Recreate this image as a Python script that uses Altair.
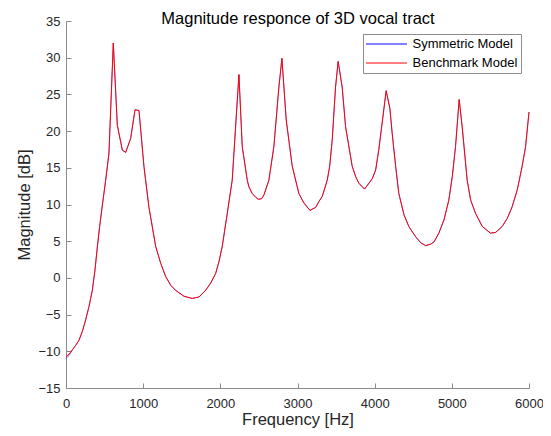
import altair as alt
import pandas as pd

# ---- data ----
freq_hz = [0, 39, 82, 125, 168, 212, 255, 298, 341, 376, 406, 436, 471, 514, 557, 613,
           665, 730, 773, 838, 894, 946, 1010, 1032, 1075, 1118, 1162, 1227, 1291, 1357,
           1421, 1529, 1636, 1723, 1809, 1875, 1939, 1982, 2025, 2090, 2154, 2241, 2284,
           2349, 2371, 2413, 2458, 2491, 2536, 2565, 2629, 2694, 2759, 2798, 2854, 2932,
           3018, 3084, 3161, 3236, 3277, 3321, 3385, 3417, 3450, 3493, 3527, 3579, 3623,
           3709, 3754, 3795, 3869, 3968, 4013, 4054, 4149, 4197, 4227, 4272, 4313, 4380,
           4443, 4531, 4596, 4659, 4726, 4769, 4832, 4898, 4961, 5006, 5048, 5095, 5134,
           5199, 5244, 5307, 5395, 5501, 5568, 5652, 5718, 5782, 5848, 5911, 5956, 6000]

benchmark_db = [-10.7, -10.4, -9.8, -9.2, -8.5, -7.3, -5.7, -3.9, -1.7, 1.1, 4.2, 7.0,
                9.9, 13.3, 17.0, 32.0, 20.8, 17.4, 17.1, 19.0, 22.9, 22.8, 15.2, 13.3,
                9.6, 7.0, 4.3, 2.0, 0.2, -1.0, -1.7, -2.5, -2.8, -2.6, -1.7, -0.7, 0.6,
                2.2, 4.3, 8.8, 13.3, 27.7, 17.9, 13.3, 12.4, 11.5, 11.0, 10.7, 10.8, 11.3,
                13.3, 17.9, 26.0, 29.9, 21.5, 15.2, 11.5, 10.2, 9.2, 9.6, 10.4, 11.1, 13.3,
                15.2, 18.8, 26.0, 29.5, 26.0, 20.6, 15.2, 13.8, 12.9, 12.1, 13.5, 14.7,
                17.5, 25.5, 23.1, 19.7, 15.2, 11.5, 8.6, 7.0, 5.6, 4.8, 4.4, 4.6, 4.9,
                6.1, 7.9, 10.6, 13.8, 17.9, 24.3, 20.6, 13.3, 10.6, 8.8, 7.0, 6.1, 6.2,
                7.0, 8.1, 9.7, 12.0, 15.2, 17.9, 22.6]

symmetric_db = list(benchmark_db)
symmetric_db[0] = -10.95
symmetric_db[1] = -10.6

series_names = ["Symmetric Model", "Benchmark Model"]
series_colors = ["#0000ff", "#ff0000"]

x_ticks = [0, 1000, 2000, 3000, 4000, 5000, 6000]
y_ticks = [-15, -10, -5, 0, 5, 10, 15, 20, 25, 30, 35]
x_domain = [0, 6000]
y_domain = [-15, 35]
chart_title = "Magnitude responce of 3D vocal tract"

n = len(freq_hz)
df = pd.DataFrame({
    "f": freq_hz + freq_hz,
    "db": symmetric_db + benchmark_db,
    "series": [series_names[0]] * n + [series_names[1]] * n,
})

FONT = "Liberation Sans"
W, H = 463, 367
AXIS_GRAY = "#8a8a8a"
TEXT_GRAY = "#262626"

color = alt.Color(
    "series:N",
    scale=alt.Scale(domain=series_names, range=series_colors),
    legend=alt.Legend(
        title=None, orient="none", legendX=297, legendY=13,
        symbolType="M-3.15,0H3.15", symbolSize=169, symbolStrokeWidth=1,
        symbolOffset=13.5, labelOffset=19,
        labelFont=FONT, labelFontSize=13, labelColor="#000000",
        rowPadding=5, padding=3,
        strokeColor="#8c8c8c", fillColor="#ffffff", cornerRadius=0,
    ),
)

x_main = alt.X(
    "f:Q",
    scale=alt.Scale(domain=x_domain, nice=False, zero=False),
    axis=alt.Axis(
        values=x_ticks, format="d", title="Frequency [Hz]", ticks=False, tickSize=0, grid=False,
        labelFont=FONT, labelFontSize=13, labelColor=TEXT_GRAY, labelPadding=9,
        labelFlush=False, labelOverlap=False,
        titleFont=FONT, titleFontSize=16.5, titleFontWeight="normal", titleColor=TEXT_GRAY,
        titleY=36, titleBaseline="alphabetic",
        domainColor=AXIS_GRAY, domainWidth=1,
    ),
)
y_main = alt.Y(
    "db:Q",
    scale=alt.Scale(domain=y_domain, nice=False, zero=False),
    axis=alt.Axis(
        values=y_ticks, format="d", title="Magnitude [dB]", ticks=False, tickSize=0, grid=False,
        labelFont=FONT, labelFontSize=13, labelColor=TEXT_GRAY, labelPadding=6,
        labelFlush=False, labelOverlap=False,
        titleFont=FONT, titleFontSize=16.5, titleFontWeight="normal", titleColor=TEXT_GRAY,
        titleX=-37, titleY=H / 2, titleBaseline="alphabetic", titleAngle=270,
        domainColor=AXIS_GRAY, domainWidth=1,
    ),
)

sym_layer = alt.Chart(df).transform_filter(
    alt.datum.series == series_names[0]
).mark_line(strokeWidth=0.5).encode(x=x_main, y=y_main, color=color, order="f:Q")

bench_layer = alt.Chart(df).transform_filter(
    alt.datum.series == series_names[1]
).mark_line(strokeWidth=1).encode(x=x_main, y=y_main, color=color, order="f:Q")

lines = alt.layer(sym_layer, bench_layer)

# inward-pointing tick marks (MATLAB style) through secondary axes;
# the top one also carries the chart title
tick_layer = alt.Chart(df).mark_point(opacity=0).encode(
    x=alt.X(
        "f:Q",
        scale=alt.Scale(domain=x_domain, nice=False, zero=False),
        axis=alt.Axis(orient="top", offset=-H, values=x_ticks, labels=False, domain=False,
                      grid=False, tickSize=5, tickColor=AXIS_GRAY,
                      title=chart_title, titleFont=FONT, titleFontSize=16.5,
                      titleFontWeight="normal", titleColor="#000000",
                      titleX=W / 2, titleY=-H + 2, titleBaseline="alphabetic",
                      titleAlign="center"),
    ),
    y=alt.Y(
        "db:Q",
        scale=alt.Scale(domain=y_domain, nice=False, zero=False),
        axis=alt.Axis(orient="right", offset=-W, values=y_ticks, labels=False, domain=False,
                      title=None, grid=False, tickSize=5, tickColor=AXIS_GRAY),
    ),
)

chart = alt.layer(lines, tick_layer).resolve_scale(
    x="independent", y="independent"
).properties(
    width=W, height=H,
    autosize=alt.AutoSizeParams(type="none"),
    padding={"left": 58, "top": 13, "right": 14, "bottom": 40},
    background="#ffffff",
).configure_view(stroke=None)

chart.save("out.html", embed_options={"renderer": "svg", "actions": False})
